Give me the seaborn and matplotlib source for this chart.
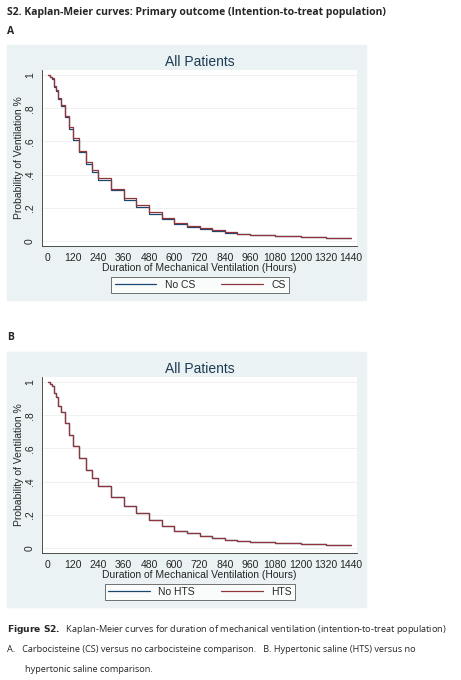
import matplotlib
matplotlib.use("Agg")
import matplotlib.pyplot as plt
import seaborn as sns
import pandas as pd
from matplotlib.patches import Rectangle

# Kaplan-Meier estimates (hours, survival)
hours = [0, 10, 20, 30, 40, 50, 60, 80, 100, 120, 150, 180, 210, 240, 300, 360,
         420, 480, 540, 600, 660, 720, 780, 840, 900, 960, 1080, 1200, 1320, 1440]
no_cs = [1, 0.99, 0.975, 0.93, 0.905, 0.855, 0.815, 0.745, 0.675, 0.61, 0.535, 0.465,
         0.415, 0.37, 0.305, 0.25, 0.205, 0.165, 0.13, 0.1, 0.087, 0.072, 0.062, 0.05,
         0.042, 0.035, 0.028, 0.024, 0.02, 0.018]
cs = [1, 0.99, 0.98, 0.935, 0.91, 0.86, 0.82, 0.755, 0.685, 0.62, 0.545, 0.478,
      0.428, 0.382, 0.315, 0.262, 0.215, 0.173, 0.137, 0.106, 0.092, 0.076, 0.065, 0.053,
      0.044, 0.037, 0.03, 0.025, 0.021, 0.019]
no_hts = [1, 0.99, 0.978, 0.932, 0.907, 0.857, 0.817, 0.75, 0.68, 0.615, 0.54, 0.471,
          0.421, 0.376, 0.31, 0.256, 0.21, 0.169, 0.133, 0.103, 0.089, 0.074, 0.063, 0.051,
          0.043, 0.036, 0.029, 0.024, 0.02, 0.018]
hts = no_hts

xticks = list(range(0, 1441, 120))
yticks = [0, 0.2, 0.4, 0.6, 0.8, 1]
ytick_labels = ["0", ".2", ".4", ".6", ".8", "1"]

blue = "#1a476f"
red = "#90353b"

sns.set_style("white")
plt.rcParams["font.family"] = ["Liberation Sans", "DejaVu Sans"]

W, H = 461, 680
fig = plt.figure(figsize=(W / 100, H / 100), dpi=100)


def fx(px):
    return px / W


def fy(py):
    return 1 - py / H


def panel(top, series, labels):
    # light blue-grey background of the Stata graph region
    fig.add_artist(Rectangle((fx(7), fy(top + 255)), fx(359), 255 / H,
                             transform=fig.transFigure, color="#eaf2f3", zorder=-5))
    ax = fig.add_axes([fx(42), fy(top + 201), fx(315), 176 / H])
    ax.set_zorder(1)
    ax.set_facecolor("white")
    rows = []
    for lab, vals in zip(labels, series):
        for t, s in zip(hours, vals):
            rows.append({"hours": t, "surv": s, "group": lab})
    df = pd.DataFrame(rows)
    sns.lineplot(data=df, x="hours", y="surv", hue="group", palette=[blue, red],
                 drawstyle="steps-post", linewidth=0.9, ax=ax, legend=False)
    ax.set_xlim(-28, 1468)
    ax.set_ylim(-0.03, 1.03)
    ax.set_xticks(xticks)
    ax.set_xticklabels([str(t) for t in xticks], fontsize=7.5)
    ax.set_yticks(yticks)
    ax.set_yticklabels(ytick_labels, fontsize=7.5, rotation=90, va="center")
    ax.tick_params(length=3, width=0.6, color="#333333", pad=2)
    ax.yaxis.grid(True, color="#eeeeee", linewidth=0.6)
    for s in ["top", "right"]:
        ax.spines[s].set_visible(False)
    for s in ["left", "bottom"]:
        ax.spines[s].set_color("#333333")
        ax.spines[s].set_linewidth(0.6)
    ax.set_xlabel("Duration of Mechanical Ventilation (Hours)", fontsize=7.5, labelpad=0)
    ax.set_ylabel("Probability of Ventilation %", fontsize=7.5, labelpad=1)
    ax.set_title("All Patients", fontsize=10, color="#1e3b55", pad=3)
    handles = [plt.Line2D([], [], color=blue, lw=0.9), plt.Line2D([], [], color=red, lw=0.9)]
    leg = fig.legend(handles, labels, loc="center", bbox_to_anchor=(fx(200), fy(top + 240)),
                     ncol=2, fontsize=7.5, frameon=True, fancybox=False, edgecolor="#333333",
                     handlelength=4, columnspacing=2.5, borderpad=0.3)
    leg.get_frame().set_linewidth(0.6)
    return ax


panel(45, [no_cs, cs], ["No CS", "CS"])
panel(352, [no_hts, hts], ["No HTS", "HTS"])

fig.text(fx(7), fy(12), "S2. Kaplan-Meier curves: Primary outcome (Intention-to-treat population)",
         fontsize=7.5, fontweight="bold", va="center", family="Open Sans")
fig.text(fx(7), fy(32), "A", fontsize=7.5, fontweight="bold", va="center", family="Open Sans")
fig.text(fx(7), fy(338), "B", fontsize=7.5, fontweight="bold", va="center", family="Open Sans")
fig.text(fx(7), fy(629), r"$\bf{Figure\ S2.}$  Kaplan-Meier curves for duration of mechanical ventilation (intention-to-treat population)",
         fontsize=6.6, va="center", family="Open Sans")
fig.text(fx(7), fy(649), "A.   Carbocisteine (CS) versus no carbocisteine comparison.   B. Hypertonic saline (HTS) versus no",
         fontsize=6.6, va="center", family="Open Sans")
fig.text(fx(25), fy(669), "hypertonic saline comparison.", fontsize=6.6, va="center", family="Open Sans")

fig.savefig("out.png", dpi=100)
